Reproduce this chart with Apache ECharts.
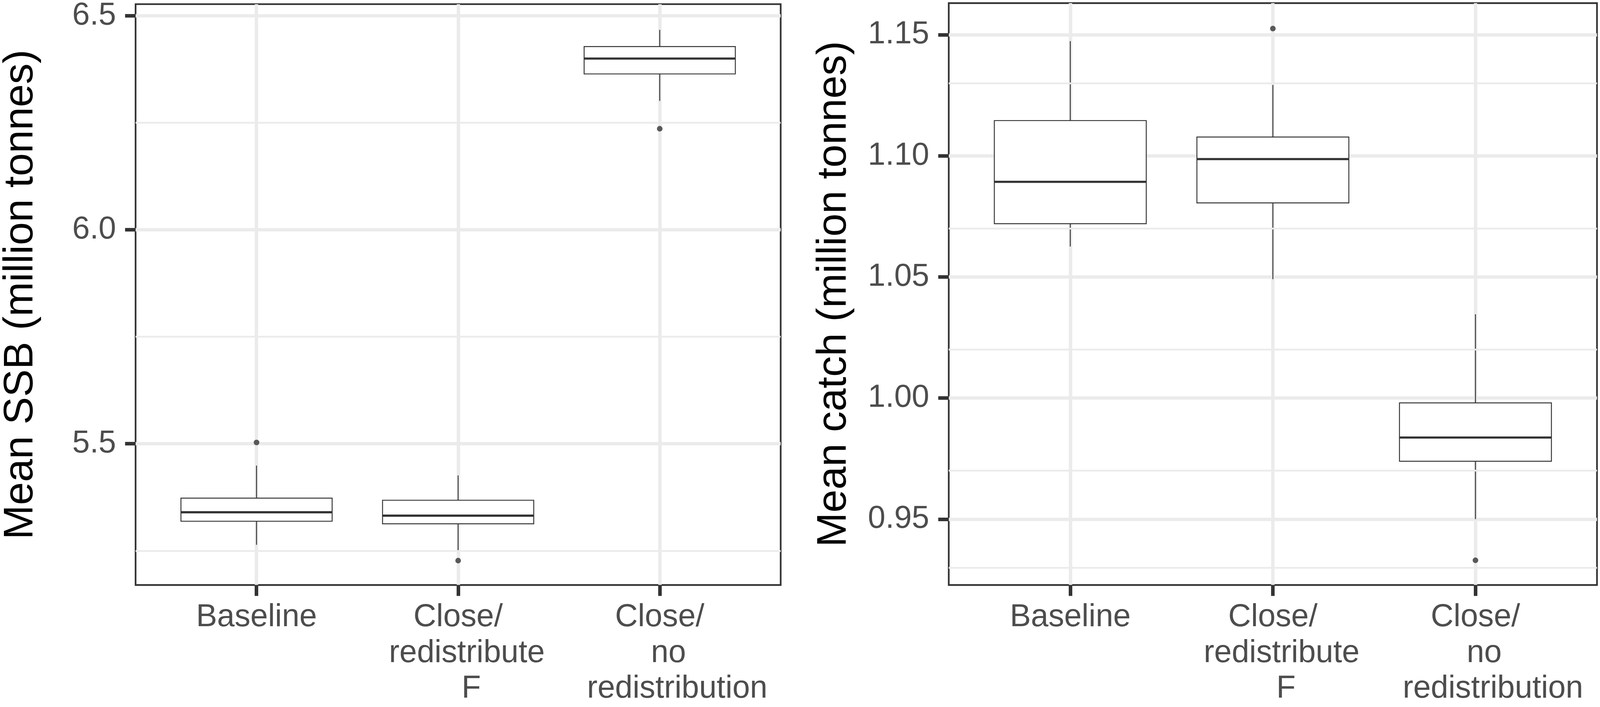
<!DOCTYPE html>
<html>
<head>
<meta charset="utf-8">
<script src="https://cdn.jsdelivr.net/npm/echarts@6/dist/echarts.min.js"></script>
<style>
  html, body { margin: 0; padding: 0; background: #fff; overflow: hidden; }
  #chart { width: 100vw; height: 100vh; }
</style>
</head>
<body>
<div id="chart"></div>
<script>
// categories shared by both panels (lower lines sit a little right in the original)
const categories = ['Baseline', 'Close/\n  redistribute\n   F', 'Close/\n  no\n    redistribution'];

// left panel: mean SSB (million tonnes)
const ssbWhiskerLow = [5.264, 5.251, 6.301];
const ssbQ1 = [5.319, 5.313, 6.364];
const ssbMedian = [5.340, 5.332, 6.400];
const ssbQ3 = [5.373, 5.368, 6.428];
const ssbWhiskerHigh = [5.449, 5.426, 6.467];
const ssbOutliers = [[5.503], [5.227], [6.236]];
const ssbTicks = [5.5, 6.0, 6.5];
const ssbMinor = [5.25, 5.75, 6.25];
const ssbRange = [5.170, 6.527];

// right panel: mean catch (million tonnes)
const catchWhiskerLow = [1.0626, 1.0491, 0.950];
const catchQ1 = [1.0720, 1.0806, 0.9739];
const catchMedian = [1.0893, 1.0987, 0.9837];
const catchQ3 = [1.1146, 1.1078, 0.9980];
const catchWhiskerHigh = [1.1474, 1.1293, 1.0346];
const catchOutliers = [[], [1.1526], [0.933]];
const catchTicks = [0.95, 1.00, 1.05, 1.10, 1.15];
const catchMinor = [0.925, 0.975, 1.025, 1.075, 1.125];
const catchRange = [0.9228, 1.1631];

const FONT = '"Liberation Sans", Arial, sans-serif';
const DARK = '#333333';
const GRID_COL = '#EBEBEB';
const BOX_HALF = 0.375;

const chart = echarts.init(document.getElementById('chart'));
// layout was measured on a 4265 x 1811 canvas, scale it to whatever we got
const sx = chart.getWidth() / 4265;
const sy = chart.getHeight() / 1811;
const s = Math.min(sx, sy);

function boxData(lo, q1, med, q3, hi) {
  return categories.map((c, i) => [i + 1, lo[i], q1[i], med[i], q3[i], hi[i]]);
}

function outlierData(outs) {
  const res = [];
  outs.forEach((vals, i) => vals.forEach(v => res.push([i + 1, v])));
  return res;
}

function renderBox(params, api) {
  const x = api.value(0);
  const pLo = api.coord([x, api.value(1)]);
  const pQ1 = api.coord([x, api.value(2)]);
  const pMed = api.coord([x, api.value(3)]);
  const pQ3 = api.coord([x, api.value(4)]);
  const pHi = api.coord([x, api.value(5)]);
  const xl = api.coord([x - BOX_HALF, api.value(3)])[0];
  const xr = api.coord([x + BOX_HALF, api.value(3)])[0];
  const lineStyle = { stroke: DARK, lineWidth: 2.5 * s, fill: null };
  return {
    type: 'group',
    children: [
      { type: 'line', shape: { x1: pHi[0], y1: pHi[1], x2: pQ3[0], y2: pQ3[1] }, style: lineStyle },
      { type: 'line', shape: { x1: pLo[0], y1: pLo[1], x2: pQ1[0], y2: pQ1[1] }, style: lineStyle },
      {
        type: 'rect',
        shape: { x: xl, y: pQ3[1], width: xr - xl, height: pQ1[1] - pQ3[1] },
        style: { fill: '#fff', stroke: DARK, lineWidth: 2.5 * s }
      },
      { type: 'line', shape: { x1: xl, y1: pMed[1], x2: xr, y2: pMed[1] }, style: { stroke: DARK, lineWidth: 5.8 * s } }
    ]
  };
}

function makeXAxis(gridIndex) {
  return {
    gridIndex: gridIndex,
    type: 'value',
    min: 0.4,
    max: 3.6,
    axisLine: { show: false },
    axisTick: { show: true, length: 28 * sy, customValues: [1, 2, 3], lineStyle: { color: DARK, width: 9.5 * s } },
    axisLabel: {
      customValues: [1, 2, 3],
      formatter: v => categories[Math.round(v) - 1],
      fontFamily: FONT, fontSize: 84 * sx, lineHeight: 91.5 * sy, color: '#4D4D4D', margin: 38 * sy
    },
    splitLine: { show: true, lineStyle: { color: GRID_COL, width: 9 * s } }
  };
}

function makeYAxis(gridIndex, name, range, ticks, digits) {
  return {
    gridIndex: gridIndex,
    type: 'value',
    min: range[0],
    max: range[1],
    name: name,
    nameLocation: 'middle',
    nameGap: 250 * sx,
    nameTextStyle: { fontFamily: FONT, fontSize: 106 * sy, color: '#000' },
    axisLine: { show: false },
    axisTick: { show: true, length: 28 * sx, customValues: ticks, lineStyle: { color: DARK, width: 9.5 * s } },
    axisLabel: {
      customValues: ticks,
      formatter: v => v.toFixed(digits),
      fontFamily: FONT, fontSize: 84 * sx, color: '#4D4D4D', margin: 52 * sx
    },
    splitLine: { show: true, lineStyle: { color: GRID_COL, width: 9 * s } }
  };
}

function minorLines(vals) {
  return {
    silent: true,
    symbol: 'none',
    label: { show: false },
    lineStyle: { color: GRID_COL, width: 4.7 * s, type: 'solid' },
    data: vals.map(v => ({ yAxis: v }))
  };
}

function makeGrid(left, width) {
  return {
    left: left * sx, top: 8 * sy, width: width * sx, height: 1502 * sy,
    show: true, borderColor: DARK, borderWidth: 4.5 * s, backgroundColor: 'transparent'
  };
}

chart.setOption({
  animation: false,
  backgroundColor: '#fff',
  grid: [makeGrid(350, 1731), makeGrid(2529, 1728)],
  xAxis: [makeXAxis(0), makeXAxis(1)],
  yAxis: [
    makeYAxis(0, 'Mean SSB (million tonnes)', ssbRange, ssbTicks, 1),
    makeYAxis(1, 'Mean catch (million tonnes)', catchRange, catchTicks, 2)
  ],
  series: [
    {
      type: 'scatter', xAxisIndex: 0, yAxisIndex: 0, z: 1,
      symbolSize: 15 * s, itemStyle: { color: DARK },
      data: outlierData(ssbOutliers),
      markLine: minorLines(ssbMinor)
    },
    {
      type: 'custom', xAxisIndex: 0, yAxisIndex: 0, z: 2,
      renderItem: renderBox,
      data: boxData(ssbWhiskerLow, ssbQ1, ssbMedian, ssbQ3, ssbWhiskerHigh)
    },
    {
      type: 'scatter', xAxisIndex: 1, yAxisIndex: 1, z: 1,
      symbolSize: 15 * s, itemStyle: { color: DARK },
      data: outlierData(catchOutliers),
      markLine: minorLines(catchMinor)
    },
    {
      type: 'custom', xAxisIndex: 1, yAxisIndex: 1, z: 2,
      renderItem: renderBox,
      data: boxData(catchWhiskerLow, catchQ1, catchMedian, catchQ3, catchWhiskerHigh)
    }
  ]
});
</script>
</body>
</html>
